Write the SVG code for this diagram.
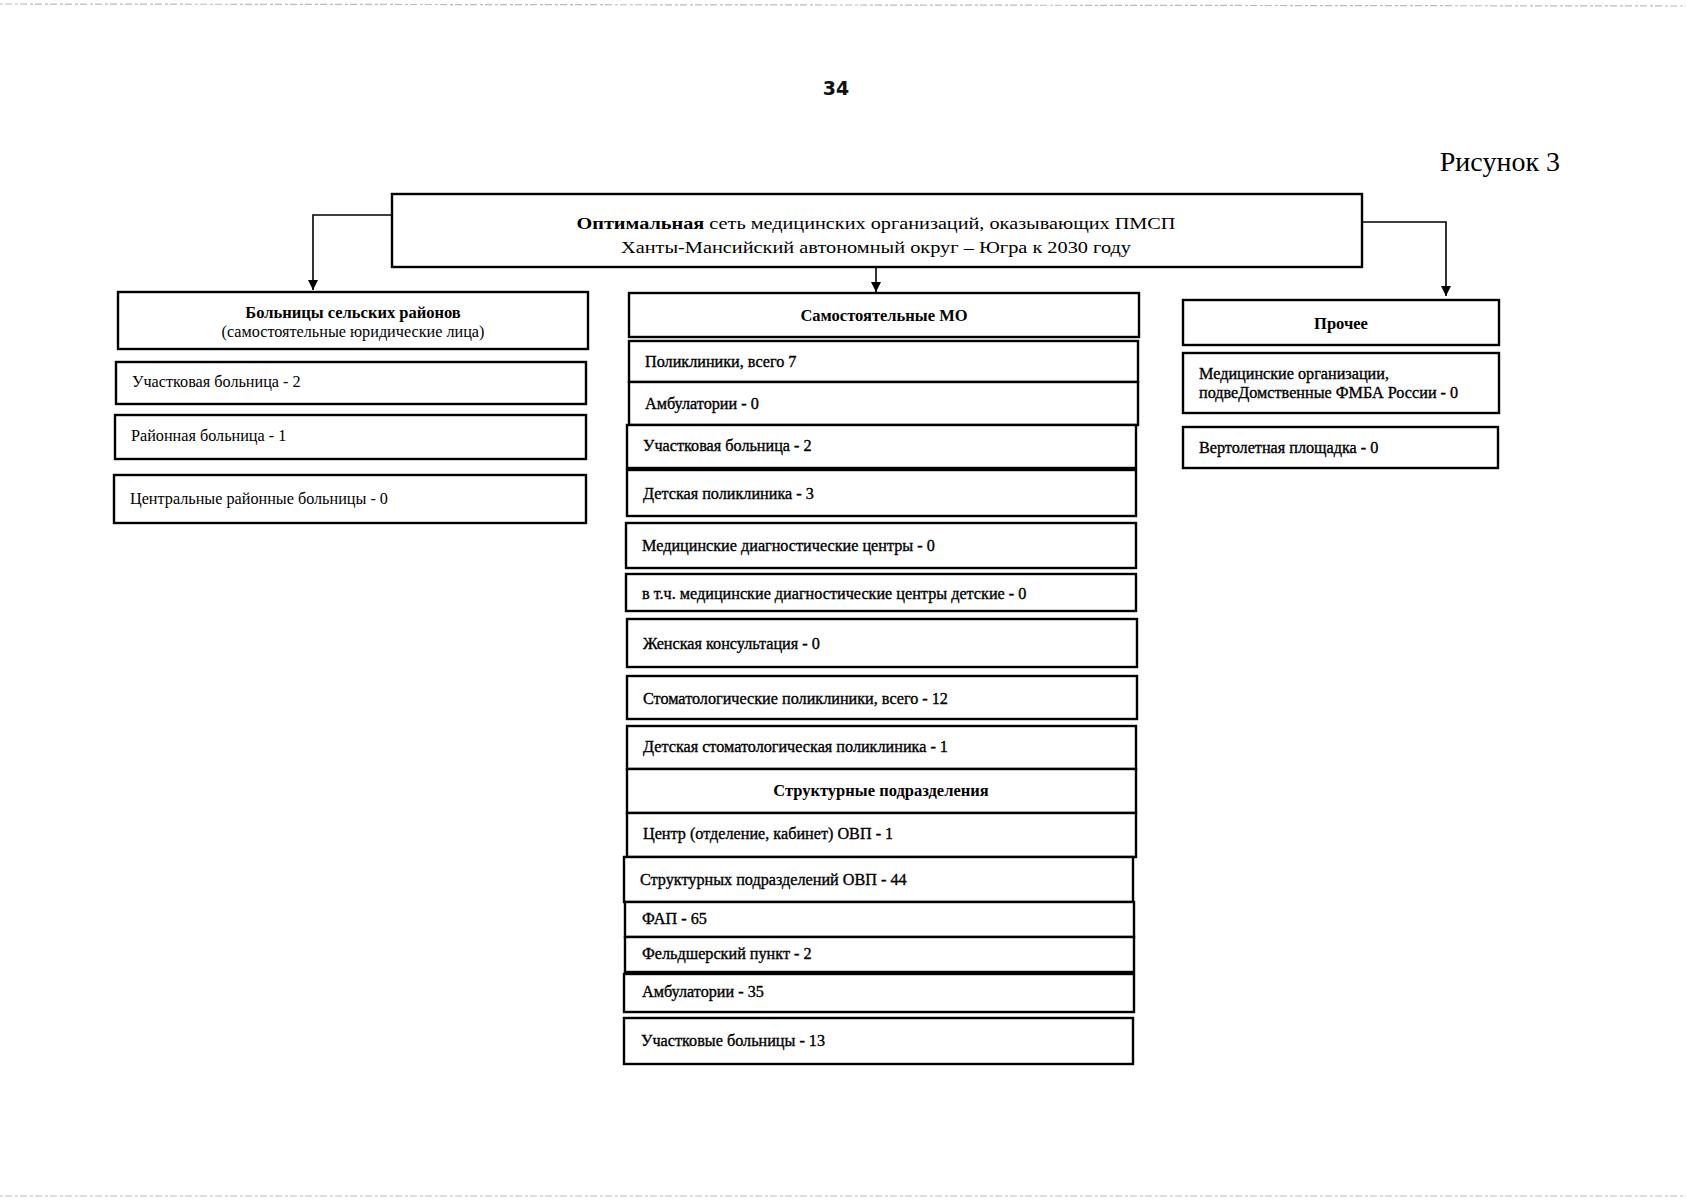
<svg xmlns="http://www.w3.org/2000/svg" width="1686" height="1200" viewBox="0 0 1686 1200">
<defs>
<marker id="arr" viewBox="0 0 10 10" refX="10" refY="5" markerWidth="10" markerHeight="10" markerUnits="userSpaceOnUse" orient="auto">
<path d="M0,0 L10,5 L0,10 Z" fill="#000"/>
</marker>
</defs>
<style>
.box{fill:#fff;stroke:#000;stroke-width:2.4}
.t{font-family:"Liberation Serif","Times New Roman",serif;font-size:16.2px;fill:#000}
.m{stroke:#000;stroke-width:0.35}
.b{font-weight:bold;text-anchor:middle;font-size:16.5px}
.c{text-anchor:middle}
.con{fill:none;stroke:#000;stroke-width:1.6}
.noise{fill:none;stroke:#bbb;stroke-width:1.2;stroke-dasharray:3 2 7 3}
</style>
<rect width="1686" height="1200" fill="#fff"/>
<path class="noise" d="M0,4 L1686,6"/>
<path class="noise" d="M0,1196 L1686,1196"/>
<text x="836" y="95" font-family="'DejaVu Sans',sans-serif" font-size="19" font-weight="bold" text-anchor="middle" fill="#111">34</text>
<text x="1560" y="171" font-family="'Liberation Serif',serif" font-size="28" text-anchor="end" fill="#000">Рисунок 3</text>

<g id="connectors">
<path class="con" d="M392,215 H313 V290" marker-end="url(#arr)"/>
<path class="con" d="M876,267 V292" marker-end="url(#arr)"/>
<path class="con" d="M1362,222 H1446 V296" marker-end="url(#arr)"/>
</g>

<g id="root">
<rect class="box" x="392" y="194" width="970" height="73"/>
<text class="t c" x="876" y="229" font-size="26" textLength="599" lengthAdjust="spacingAndGlyphs"><tspan font-weight="bold">Оптимальная</tspan> сеть медицинских организаций, оказывающих ПМСП</text>
<text class="t c" x="876" y="253" font-size="26" textLength="510" lengthAdjust="spacingAndGlyphs">Ханты-Мансийский автономный округ – Югра к 2030 году</text>
</g>

<g id="left-header">
<rect class="box" x="118" y="292" width="470" height="57"/>
<text class="t b" x="353" y="318">Больницы сельских районов</text>
<text class="t c" x="353" y="337">(самостоятельные юридические лица)</text>
</g>
<g id="left-1"><rect class="box" x="116" y="362" width="470" height="42"/><text class="t" x="132" y="387">Участковая больница - 2</text></g>
<g id="left-2"><rect class="box" x="115" y="415" width="471" height="44"/><text class="t" x="131" y="441">Районная больница - 1</text></g>
<g id="left-3"><rect class="box" x="114" y="475" width="472" height="48"/><text class="t" x="130" y="504">Центральные районные больницы - 0</text></g>

<g id="mid-header">
<rect class="box" x="629" y="293" width="510" height="44"/>
<text class="t b" x="884" y="321">Самостоятельные МО</text>
</g>
<g id="mid-1"><rect class="box" x="629" y="341" width="509" height="41"/><text class="t m" x="645" y="367">Поликлиники, всего 7</text></g>
<g id="mid-2"><rect class="box" x="629" y="382" width="509" height="43"/><text class="t m" x="645" y="409">Амбулатории - 0</text></g>
<g id="mid-3"><rect class="box" x="627" y="425" width="509" height="43"/><text class="t m" x="643" y="451">Участковая больница - 2</text></g>
<g id="mid-4"><rect class="box" x="627" y="470" width="509" height="46"/><text class="t m" x="643" y="499">Детская поликлиника - 3</text></g>
<g id="mid-5"><rect class="box" x="626" y="523" width="510" height="45"/><text class="t m" x="642" y="551">Медицинские диагностические центры - 0</text></g>
<g id="mid-6"><rect class="box" x="626" y="574" width="510" height="37"/><text class="t m" x="642" y="599">в т.ч. медицинские диагностические центры детские - 0</text></g>
<g id="mid-7"><rect class="box" x="627" y="619" width="510" height="48"/><text class="t m" x="643" y="649">Женская консультация - 0</text></g>
<g id="mid-8"><rect class="box" x="627" y="676" width="510" height="43"/><text class="t m" x="643" y="704">Стоматологические поликлиники, всего - 12</text></g>
<g id="mid-9"><rect class="box" x="627" y="726" width="509" height="43"/><text class="t m" x="643" y="752">Детская стоматологическая поликлиника - 1</text></g>
<g id="mid-10"><rect class="box" x="627" y="769" width="509" height="44"/><text class="t b" x="881" y="796">Структурные подразделения</text></g>
<g id="mid-11"><rect class="box" x="627" y="813" width="509" height="44"/><text class="t m" x="643" y="839">Центр (отделение, кабинет) ОВП - 1</text></g>
<g id="mid-12"><rect class="box" x="624" y="857" width="509" height="45"/><text class="t m" x="640" y="885">Структурных подразделений ОВП - 44</text></g>
<g id="mid-13"><rect class="box" x="625" y="902" width="509" height="35"/><text class="t m" x="642" y="924">ФАП - 65</text></g>
<g id="mid-14"><rect class="box" x="625" y="937" width="509" height="35"/><text class="t m" x="642" y="959">Фельдшерский пункт - 2</text></g>
<g id="mid-15"><rect class="box" x="624" y="974" width="510" height="38"/><text class="t m" x="642" y="997">Амбулатории - 35</text></g>
<g id="mid-16"><rect class="box" x="624" y="1018" width="509" height="46"/><text class="t m" x="641" y="1046">Участковые больницы - 13</text></g>

<g id="right-header">
<rect class="box" x="1183" y="300" width="316" height="45"/>
<text class="t b" x="1341" y="329">Прочее</text>
</g>
<g id="right-1"><rect class="box" x="1183" y="353" width="316" height="60"/>
<text class="t m" x="1199" y="379">Медицинские организации,</text>
<text class="t m" x="1199" y="398">подвеДомственные ФМБА России - 0</text></g>
<g id="right-2"><rect class="box" x="1183" y="427" width="315" height="41"/><text class="t m" x="1199" y="453">Вертолетная площадка - 0</text></g>
</svg>
